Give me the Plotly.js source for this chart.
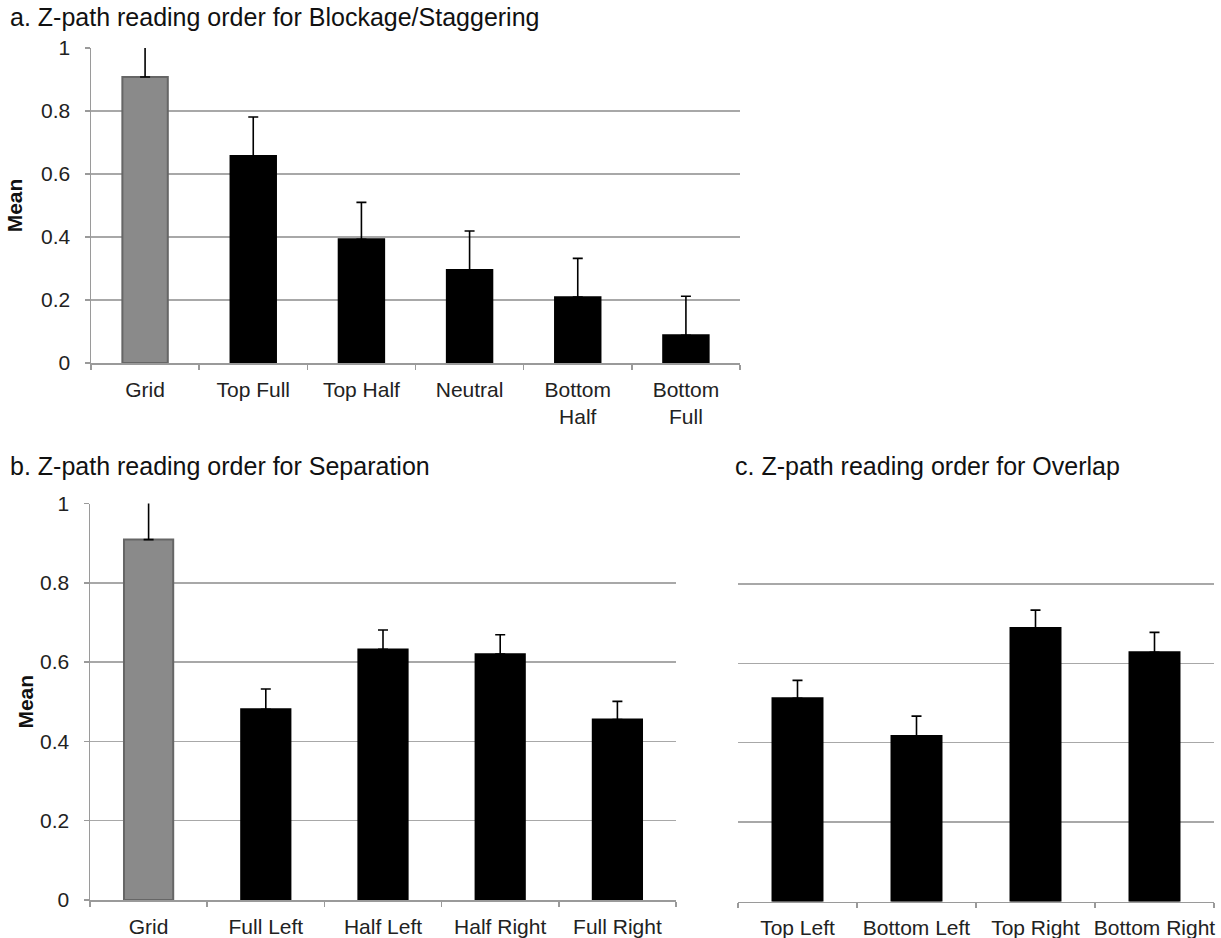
<!DOCTYPE html>
<html>
<head>
<meta charset="utf-8">
<script src="https://cdn.plot.ly/plotly-3.0.1.min.js"></script>
<style>html,body{margin:0;padding:0;background:#fff;}</style>
</head>
<body>
<div id="chart" style="width:1221px;height:938px;"></div>
<script>
// Panel a: Blockage/Staggering
const catsA = ["Grid", "Top Full", "Top Half", "Neutral", "Bottom<br>Half", "Bottom<br>Full"];
const meanA = [0.908, 0.657, 0.393, 0.295, 0.209, 0.088];
const errA  = [0.110, 0.124, 0.117, 0.124, 0.123, 0.124];

// Panel b: Separation
const catsB = ["Grid", "Full Left", "Half Left", "Half Right", "Full Right"];
const meanB = [0.909, 0.481, 0.632, 0.620, 0.455];
const errB  = [0.110, 0.051, 0.049, 0.049, 0.046];

// Panel c: Overlap
const catsC = ["Top Left", "Bottom Left", "Top Right", "Bottom Right"];
const meanC = [0.512, 0.417, 0.689, 0.628];
const errC  = [0.045, 0.050, 0.045, 0.050];

const yTickVals = [0, 0.2, 0.4, 0.6, 0.8, 1];
const yTickText = ["0", "0.2", "0.4", "0.6", "0.8", "1"];

const FONT = "Liberation Sans, Arial, Helvetica, sans-serif";
const GRAY = "#8a8a8a", GRAY_LINE = "#666666", AX = "#9a9a9a", GRID = "#a8a8a8";

function colors(cats){ return cats.map(c => c === "Grid" ? GRAY : "#000000"); }
function lineColors(cats){ return cats.map(c => c === "Grid" ? GRAY_LINE : "#000000"); }

function barTrace(cats, vals, errs, xa, ya){
  return {
    type: "bar", x: cats, y: vals, xaxis: xa, yaxis: ya,
    marker: {color: colors(cats), line: {color: lineColors(cats), width: 2}},
    error_y: {type: "data", array: errs, symmetric: false, arrayminus: errs.map(() => 0),
              color: "#000", thickness: 1.6, width: 5},
    showlegend: false, hoverinfo: "x+y"
  };
}

const data = [
  barTrace(catsA, meanA, errA, "x", "y"),
  barTrace(catsB, meanB, errB, "x2", "y2"),
  barTrace(catsC, meanC, errC, "x3", "y3")
];

function xAxis(domain, anchor){
  return {
    domain: domain, anchor: anchor, type: "category",
    showline: true, linecolor: AX, linewidth: 1.5,
    ticks: "outside", tickson: "boundaries", ticklen: 5, tickcolor: AX, tickwidth: 1.5,
    showgrid: false, zeroline: false, tickangle: 0,
    tickfont: {family: FONT, size: 21, color: "#222"},
    ticklabelstandoff: 7, fixedrange: true
  };
}
function yAxis(domain, anchor, showLabels, standoff){
  return {
    domain: domain, anchor: anchor, range: [0, 1],
    tickvals: yTickVals, ticktext: yTickText,
    showticklabels: showLabels,
    showline: showLabels, linecolor: AX, linewidth: 1.5,
    ticks: showLabels ? "outside" : "", ticklen: 5, tickcolor: AX, tickwidth: 1.5,
    showgrid: true, gridcolor: GRID, gridwidth: 1.5, zeroline: false,
    tickfont: {family: FONT, size: 21, color: "#222"},
    ticklabelstandoff: 10, fixedrange: true,
    title: showLabels ? {text: "<b>Mean</b>", font: {family: FONT, size: 21, color: "#111"}, standoff: standoff} : {text: ""}
  };
}

const layout = {
  width: 1221, height: 938,
  margin: {l: 0, r: 0, t: 0, b: 0},
  paper_bgcolor: "#fff", plot_bgcolor: "#fff",
  bargap: 0.58,
  font: {family: FONT},
  xaxis:  xAxis([91/1221, 740/1221], "y"),
  yaxis:  yAxis([1 - 363/938, 1 - 48/938], "x", true, 12),
  xaxis2: xAxis([90/1221, 676/1221], "y2"),
  yaxis2: yAxis([1 - 900/938, 1 - 503.5/938], "x2", true, 0),
  xaxis3: xAxis([738/1221, 1214/1221], "y3"),
  yaxis3: yAxis([1 - 901.5/938, 1 - 504.5/938], "x3", false, 0),
  annotations: [
    {text: "a. Z-path reading order for Blockage/Staggering", xref: "paper", yref: "paper",
     x: 8/1221, y: 1 - 17/938, xanchor: "left", yanchor: "middle", showarrow: false,
     font: {family: FONT, size: 25, color: "#111"}},
    {text: "b. Z-path reading order for Separation", xref: "paper", yref: "paper",
     x: 8/1221, y: 1 - 466/938, xanchor: "left", yanchor: "middle", showarrow: false,
     font: {family: FONT, size: 25, color: "#111"}},
    {text: "c. Z-path reading order for Overlap", xref: "paper", yref: "paper",
     x: 733/1221, y: 1 - 466/938, xanchor: "left", yanchor: "middle", showarrow: false,
     font: {family: FONT, size: 25, color: "#111"}}
  ]
};

Plotly.newPlot("chart", data, layout, {displayModeBar: false, staticPlot: true});
</script>
</body>
</html>
